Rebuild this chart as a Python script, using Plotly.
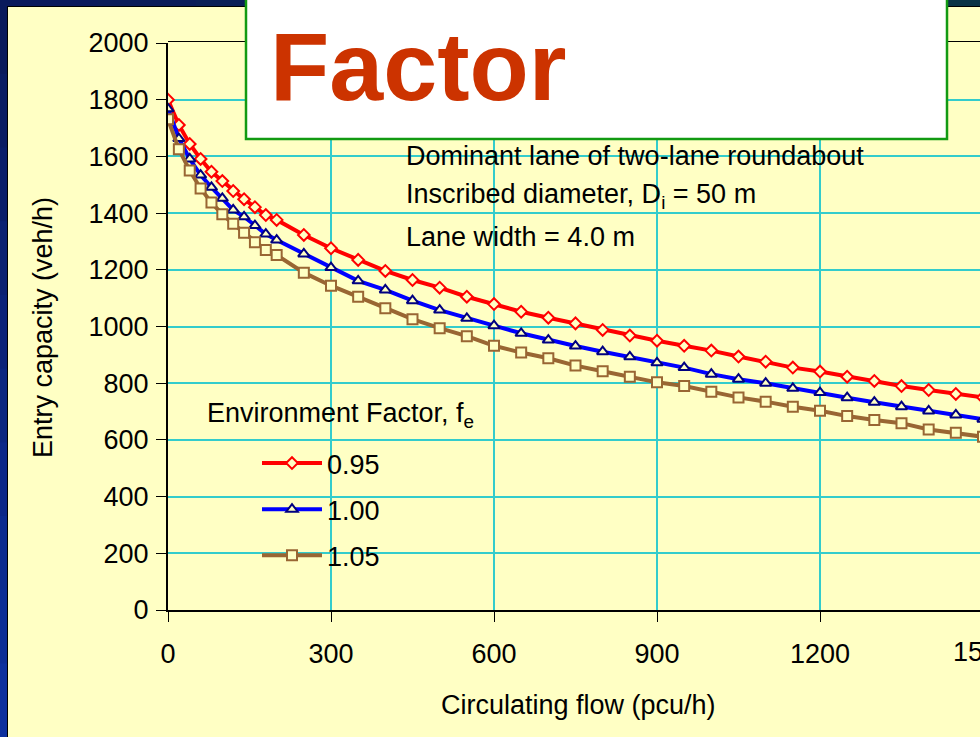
import plotly.graph_objects as go

# ---------------- data ----------------
circ_flow = [0, 20, 40, 60, 80, 100, 120, 140, 160, 180, 200, 250, 300, 350, 400, 450,
             500, 550, 600, 650, 700, 750, 800, 850, 900, 950, 1000, 1050, 1100, 1150,
             1200, 1250, 1300, 1350, 1400, 1450, 1500]
cap_095 = [1800, 1711, 1644, 1591, 1546, 1513, 1478, 1449, 1421, 1393, 1376, 1323, 1276,
           1235, 1196, 1164, 1137, 1105, 1079, 1052, 1031, 1011, 988, 968, 950, 932, 915,
           894, 876, 855, 841, 823, 808, 790, 776, 762, 750]
cap_100 = [1768, 1663, 1591, 1534, 1491, 1452, 1411, 1387, 1356, 1326, 1305, 1256, 1208,
           1161, 1129, 1091, 1058, 1029, 1003, 976, 952, 931, 911, 893, 872, 855, 832,
           814, 800, 782, 767, 749, 733, 717, 702, 688, 673]
cap_105 = [1731, 1625, 1550, 1487, 1437, 1396, 1362, 1331, 1297, 1270, 1252, 1190, 1144,
           1105, 1064, 1026, 994, 966, 932, 908, 888, 862, 842, 823, 803, 790, 770, 750,
           735, 717, 703, 684, 670, 659, 637, 625, 611]
series_names = ["0.95", "1.00", "1.05"]
x_ticks = [0, 300, 600, 900, 1200]
y_ticks = list(range(0, 2001, 200))

# ---------------- style ----------------
W, H = 980, 737
L, R, T, B = 168, 980, 43, 610
BG = "#FFFFC4"
FONT = "Liberation Sans, Arial, sans-serif"
X_MAX = (R - L) / (652 / 1200)


def px(xp):
    return (xp - L) / (R - L)


def py(yp):
    return (B - yp) / (B - T)


fig = go.Figure()
styles = [
    dict(color="#FF0000", symbol="diamond", size=9, mline="#FF0000"),
    dict(color="#0000FF", symbol="triangle-up", size=10, mline="#000080"),
    dict(color="#996633", symbol="square", size=10, mline="#996633"),
]
for name, vals, st in zip(series_names, [cap_095, cap_100, cap_105], styles):
    fig.add_trace(go.Scatter(
        x=circ_flow, y=vals, name=name, mode="lines+markers", legendgroup=name,
        line=dict(color=st["color"], width=4),
        marker=dict(symbol=st["symbol"], size=st["size"], color=BG,
                    line=dict(color=st["mline"], width=2)),
    ))

shapes = []
# navy frame strips (gradient)
n = 10
for i in range(n):
    t = i / (n - 1)
    c = "rgb(%d,%d,%d)" % (10 + 3 * t, 26 + 22 * t, 92 + 66 * t)
    shapes.append(dict(type="rect", xref="paper", yref="paper",
                       x0=px(0), x1=px(7), y0=py(H * i / n), y1=py(H * (i + 1) / n + 1),
                       fillcolor=c, line=dict(width=0), layer="above"))
for i in range(n):
    t = i / (n - 1)
    c = "rgb(%d,%d,%d)" % (10, 26 + 25 * t, 92 - 22 * t)
    shapes.append(dict(type="rect", xref="paper", yref="paper",
                       x0=px(W * i / n), x1=px(W * (i + 1) / n + 1), y0=py(0), y1=py(6),
                       fillcolor=c, line=dict(width=0), layer="above"))
shapes.append(dict(type="line", xref="paper", yref="paper", x0=px(7.5), x1=px(7.5),
                   y0=py(6), y1=py(H), line=dict(color="#000000", width=1), layer="above"))
shapes.append(dict(type="line", xref="paper", yref="paper", x0=px(7), x1=px(W),
                   y0=py(6.5), y1=py(6.5), line=dict(color="#000000", width=1), layer="above"))
# top border of plot
shapes.append(dict(type="line", xref="paper", yref="paper", x0=0, x1=1,
                   y0=py(41.5), y1=py(41.5), line=dict(color="#000000", width=1), layer="between"))
# covers behind text blocks
for (x0, x1, y0, y1) in [(405, 977, 139, 258), (203, 500, 385, 452), (203, 437, 450, 582)]:
    shapes.append(dict(type="rect", xref="paper", yref="paper", x0=px(x0), x1=px(x1),
                       y0=py(y1), y1=py(y0), fillcolor=BG, line=dict(width=0), layer="between"))
# white title box
shapes.append(dict(type="rect", xref="paper", yref="paper", x0=px(246), x1=px(947),
                   y0=py(139), y1=py(-5), fillcolor="#FFFFFF",
                   line=dict(color="#129A12", width=2.5), layer="above"))

ann = []
ann.append(dict(text="<b>Factor</b>", xref="paper", yref="paper", x=px(268), y=py(66),
                xanchor="left", yanchor="middle", showarrow=False,
                font=dict(family=FONT, size=97, color="#CC3300")))
for txt, yy in [("Dominant lane of two-lane roundabout", 156),
                ("Inscribed diameter, D<sub>i</sub> = 50 m", 196),
                ("Lane width = 4.0 m", 237)]:
    ann.append(dict(text=txt, xref="paper", yref="paper", x=px(404), y=py(yy),
                    xanchor="left", yanchor="middle", showarrow=False,
                    font=dict(family=FONT, size=27, color="#000000")))
ann.append(dict(text="Environment Factor, f<sub>e</sub>", xref="paper", yref="paper",
                x=px(205), y=py(415), xanchor="left", yanchor="middle", showarrow=False,
                font=dict(family=FONT, size=27, color="#000000")))
ann.append(dict(text="Entry capacity (veh/h)", xref="paper", yref="paper",
                x=px(43), y=py(328), xanchor="center", yanchor="middle", textangle=-90,
                showarrow=False, font=dict(family=FONT, size=27, color="#000000")))
ann.append(dict(text="Circulating flow (pcu/h)", xref="paper", yref="paper",
                x=px(578), y=py(705), xanchor="center", yanchor="middle",
                showarrow=False, font=dict(family=FONT, size=27, color="#000000")))
ann.append(dict(text="1500", xref="paper", yref="paper",
                x=px(983), y=py(652), xanchor="center", yanchor="middle",
                showarrow=False, font=dict(family=FONT, size=27, color="#000000")))

axis_common = dict(showgrid=True, gridcolor="#33CCCC", gridwidth=2, showline=True,
                   linecolor="#000000", linewidth=2, ticks="outside", ticklen=10,
                   tickcolor="#000000", tickwidth=1, zeroline=False,
                   tickfont=dict(family=FONT, size=27, color="#000000"))

fig.update_layout(
    width=W, height=H, autosize=False,
    margin=dict(l=L, r=W - R, t=T, b=H - B, pad=0),
    paper_bgcolor=BG, plot_bgcolor=BG,
    xaxis=dict(range=[0, X_MAX], tickvals=x_ticks, ticklabelstandoff=9, **axis_common),
    yaxis=dict(range=[0, 2000], tickvals=y_ticks, ticklabelstandoff=2, **axis_common),
    showlegend=True,
    legend=dict(x=px(257), y=py(439), xanchor="left", yanchor="top",
                bgcolor="rgba(0,0,0,0)", borderwidth=0, itemwidth=60,
                tracegroupgap=8, traceorder="grouped",
                font=dict(family=FONT, size=27, color="#000000")),
    shapes=shapes, annotations=ann,
)

fig.write_html("out.html")
